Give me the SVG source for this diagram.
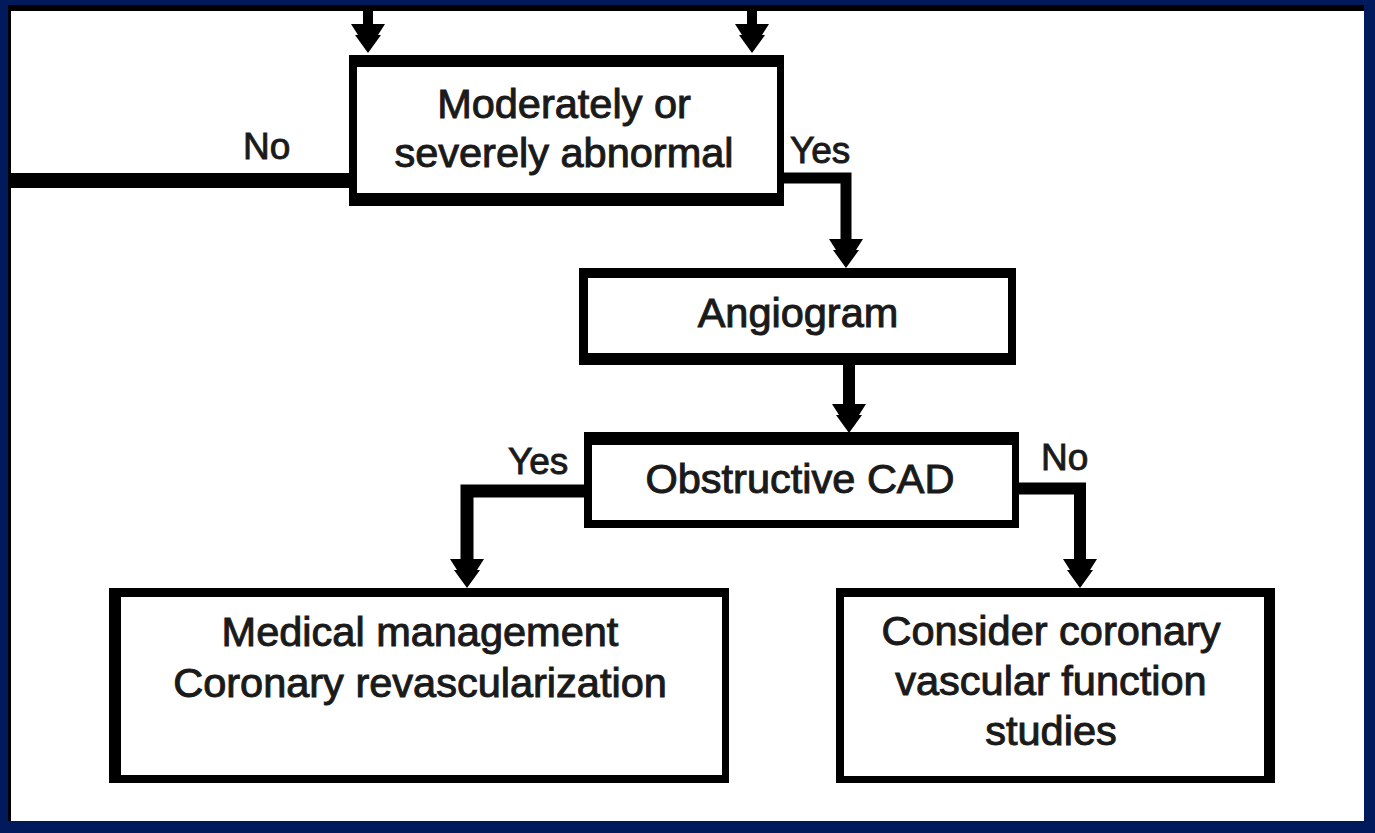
<svg xmlns="http://www.w3.org/2000/svg" xmlns:xlink="http://www.w3.org/1999/xlink" width="1375" height="833" viewBox="0 0 1375 833">
  <style>
    .t { font-family: "Liberation Sans", Arial, sans-serif; font-size: 41.5px; fill: #1a1a1a; stroke: #1a1a1a; stroke-width: 1px; text-anchor: middle; }
    .lbl { font-family: "Liberation Sans", Arial, sans-serif; font-size: 37px; fill: #1a1a1a; stroke: #1a1a1a; stroke-width: 0.9px; }
    .edge { fill: none; stroke: #000; stroke-linejoin: miter; stroke-linecap: butt; }
    .outer { fill: #000; }
    .inner { fill: #fff; }
  </style>
  <defs>
    <path id="ah" d="M -17 -29 L 17 -29 L 10 -18 L 13 -18 L 0 0 L -13 -18 L -10 -18 Z" fill="#000"/>
  </defs>

  <!-- frame -->
  <rect x="0" y="0" width="1375" height="833" fill="#011a5b"/>
  <rect x="8" y="5" width="1356" height="816" fill="#000"/>
  <rect x="11" y="11" width="1353" height="810" fill="#fff"/>

  <g id="connectors">
    <!-- incoming arrows at top -->
    <line class="edge" x1="368" y1="11" x2="368" y2="40" stroke-width="10"/>
    <use xlink:href="#ah" x="368" y="53"/>
    <line class="edge" x1="752" y1="11" x2="752" y2="40" stroke-width="10"/>
    <use xlink:href="#ah" x="752" y="53"/>
    <!-- No branch to left -->
    <line class="edge" x1="11" y1="180.5" x2="352" y2="180.5" stroke-width="15"/>
    <!-- Yes to Angiogram -->
    <polyline class="edge" points="780,178 846,178 846,250" stroke-width="11"/>
    <use xlink:href="#ah" x="846" y="268"/>
    <!-- Angiogram to Obstructive CAD -->
    <line class="edge" x1="849" y1="362" x2="849" y2="418" stroke-width="12"/>
    <use xlink:href="#ah" x="849" y="433"/>
    <!-- Yes to Medical management -->
    <polyline class="edge" points="588,491 467,491 467,572" stroke-width="13"/>
    <use xlink:href="#ah" x="467" y="588"/>
    <!-- No to Consider -->
    <polyline class="edge" points="1015,488.5 1080,488.5 1080,572" stroke-width="12"/>
    <use xlink:href="#ah" x="1080" y="588"/>
  </g>

  <g id="labels">
    <text class="lbl" x="243" y="159">No</text>
    <text class="lbl" x="790" y="163">Yes</text>
    <text class="lbl" x="508" y="474">Yes</text>
    <text class="lbl" x="1041" y="470">No</text>
  </g>

  <g id="node-abnormal">
    <rect class="outer" x="349" y="55" width="435" height="151"/>
    <rect class="inner" x="357" y="67" width="420" height="126"/>
    <text class="t" x="564" y="118">Moderately or</text>
    <text class="t" x="564" y="167">severely abnormal</text>
  </g>

  <g id="node-angiogram">
    <rect class="outer" x="579" y="268" width="437" height="97"/>
    <rect class="inner" x="588" y="278" width="420" height="75"/>
    <text class="t" x="798" y="327">Angiogram</text>
  </g>

  <g id="node-obstructive">
    <rect class="outer" x="584" y="432" width="435" height="96"/>
    <rect class="inner" x="592" y="445" width="420" height="75"/>
    <text class="t" x="800" y="493">Obstructive CAD</text>
  </g>

  <g id="node-medical">
    <rect class="outer" x="109" y="588" width="620" height="195"/>
    <rect class="inner" x="121" y="597" width="601" height="178"/>
    <text class="t" x="420" y="646">Medical management</text>
    <text class="t" x="420" y="697">Coronary revascularization</text>
  </g>

  <g id="node-consider">
    <rect class="outer" x="836" y="588" width="439" height="195"/>
    <rect class="inner" x="844" y="597" width="420" height="179"/>
    <text class="t" x="1051" y="645">Consider coronary</text>
    <text class="t" x="1051" y="695">vascular function</text>
    <text class="t" x="1051" y="745">studies</text>
  </g>
</svg>
